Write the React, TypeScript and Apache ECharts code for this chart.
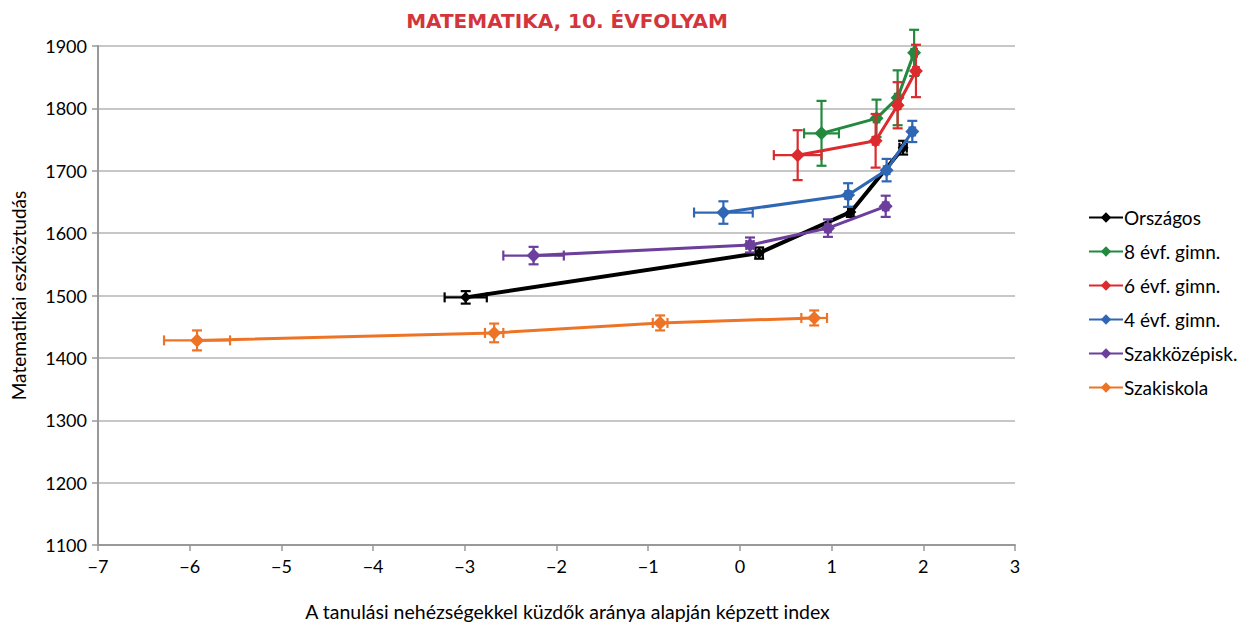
import React, { useEffect, useRef } from "react";
import * as echarts from "echarts";

const titleText = "MATEMATIKA, 10. ÉVFOLYAM";
const xAxisName = "A tanulási nehézségekkel küzdők aránya alapján képzett index";
const yAxisName = "Matematikai eszköztudás";

const seriesNames = ["Országos", "8 évf. gimn.", "6 évf. gimn.", "4 évf. gimn.", "Szakközépisk.", "Szakiskola"];
const seriesColors = ["#000000", "#23893f", "#dc2a2e", "#2f67b5", "#6b3f9b", "#ed7426"];

// Országos
const orszX = [-2.99, 0.21, 1.21, 1.78];
const orszY = [1497, 1568, 1634, 1737];
const orszXErr = [0.23, 0.04, 0.03, 0.04];
const orszYErr = [10, 9, 8, 11];

// 8 évf. gimn.
const g8X = [0.89, 1.49, 1.72, 1.9];
const g8Y = [1760, 1784, 1817, 1889];
const g8XErr = [0.19, 0.03, 0.03, 0.03];
const g8YErr = [52, 30, 44, 37];

// 6 évf. gimn.
const g6X = [0.63, 1.48, 1.72, 1.92];
const g6Y = [1725, 1748, 1805, 1860];
const g6XErr = [0.26, 0.03, 0.03, 0.03];
const g6YErr = [40, 43, 37, 42];

// 4 évf. gimn.
const g4X = [-0.18, 1.18, 1.6, 1.88];
const g4Y = [1633, 1661, 1701, 1763];
const g4XErr = [0.32, 0.03, 0.03, 0.03];
const g4YErr = [18, 19, 18, 17];

// Szakközépisk.
const szkX = [-2.25, 0.11, 0.96, 1.59];
const szkY = [1564, 1581, 1608, 1643];
const szkXErr = [0.33, 0.04, 0.03, 0.03];
const szkYErr = [14, 12, 14, 17];

// Szakiskola
const szakX = [-5.92, -2.68, -0.87, 0.81];
const szakY = [1428, 1440, 1456, 1464];
const szakXErr = [0.36, 0.1, 0.08, 0.14];
const szakYErr = [16, 15, 12, 12];

const allX = [orszX, g8X, g6X, g4X, szkX, szakX];
const allY = [orszY, g8Y, g6Y, g4Y, szkY, szakY];
const allXErr = [orszXErr, g8XErr, g6XErr, g4XErr, szkXErr, szakXErr];
const allYErr = [orszYErr, g8YErr, g6YErr, g4YErr, szkYErr, szakYErr];

const FONT = "Lato, 'Open Sans', sans-serif";

function makeErrRenderer(color: string) {
  return (params: any, api: any) => {
    const x = api.value(0);
    const y = api.value(1);
    const xe = api.value(2);
    const ye = api.value(3);
    const c = api.coord([x, y]);
    const l = api.coord([x - xe, y]);
    const r = api.coord([x + xe, y]);
    const t = api.coord([x, y + ye]);
    const b = api.coord([x, y - ye]);
    const cap = 5;
    const style = { stroke: color, lineWidth: 2.2 };
    return {
      type: "group",
      children: [
        { type: "line", shape: { x1: l[0], y1: c[1], x2: r[0], y2: c[1] }, style },
        { type: "line", shape: { x1: l[0], y1: c[1] - cap, x2: l[0], y2: c[1] + cap }, style },
        { type: "line", shape: { x1: r[0], y1: c[1] - cap, x2: r[0], y2: c[1] + cap }, style },
        { type: "line", shape: { x1: c[0], y1: t[1], x2: c[0], y2: b[1] }, style },
        { type: "line", shape: { x1: c[0] - cap, y1: t[1], x2: c[0] + cap, y2: t[1] }, style },
        { type: "line", shape: { x1: c[0] - cap, y1: b[1], x2: c[0] + cap, y2: b[1] }, style },
      ],
    };
  };
}

export default function App() {
  const ref = useRef<HTMLDivElement>(null);
  useEffect(() => {
    if (!ref.current) return;
    const chart = echarts.init(ref.current, null, { renderer: "svg" });
    const series: any[] = [];
    seriesNames.forEach((name, i) => {
      const color = seriesColors[i];
      series.push({
        name: name + " hiba",
        type: "custom",
        renderItem: makeErrRenderer(color),
        data: allX[i].map((x, k) => [x, allY[i][k], allXErr[i][k], allYErr[i][k]]),
        encode: { x: 0, y: 1 },
        z: 2 + i * 2,
        silent: true,
      });
      series.push({
        name,
        type: "line",
        data: allX[i].map((x, k) => [x, allY[i][k]]),
        symbol: "diamond",
        symbolSize: i === 0 ? 11 : 14,
        lineStyle: { color, width: i === 0 ? 4 : 3 },
        itemStyle: { color },
        z: 3 + i * 2,
      });
    });
    chart.setOption({
      animation: false,
      textStyle: { fontFamily: FONT },
      title: {
        text: titleText,
        left: 562,
        textAlign: "center",
        top: 6,
        textStyle: { color: "#d4343b", fontSize: 20, fontWeight: "bold", fontFamily: "'DejaVu Sans', sans-serif" },
      },
      legend: {
        data: seriesNames,
        orient: "vertical",
        left: 1083,
        top: 203,
        itemWidth: 34,
        itemHeight: 13,
        itemGap: 15,
        textStyle: { fontSize: 19, color: "#000", fontFamily: FONT, padding: [0, 0, 0, -4] },
      },
      grid: { left: 98, right: 235, top: 46, bottom: 81, containLabel: false },
      xAxis: {
        type: "value",
        min: -7,
        max: 3,
        interval: 1,
        name: xAxisName,
        nameLocation: "middle",
        nameGap: 56,
        nameTextStyle: { fontSize: 19.5, color: "#000", fontFamily: FONT, padding: [0, 0, 0, 22] },
        axisLine: { show: true, onZero: false, lineStyle: { color: "#999", width: 2 } },
        axisTick: { show: true, length: 6, lineStyle: { color: "#999", width: 1.5 } },
        axisLabel: {
          fontSize: 18,
          color: "#000",
          margin: 12,
          formatter: (v: number) => (v < 0 ? "\u2212" + Math.abs(v) : String(v)),
        },
        splitLine: { show: false },
      },
      yAxis: {
        type: "value",
        min: 1100,
        max: 1900,
        interval: 100,
        name: yAxisName,
        nameLocation: "middle",
        nameGap: 70,
        nameTextStyle: { fontSize: 19, color: "#000", fontFamily: FONT },
        axisLine: { show: true, onZero: false, lineStyle: { color: "#999", width: 2 } },
        axisTick: { show: true, length: 6, lineStyle: { color: "#999", width: 1.5 } },
        axisLabel: { fontSize: 18, color: "#000", margin: 11, formatter: (v: number) => String(v) },
        splitLine: { show: true, lineStyle: { color: "#b4b4b4", width: 1.5 } },
      },
      series,
    });
    return () => chart.dispose();
  }, []);
  return (
    <div
      ref={ref}
      style={{ position: "fixed", left: 0, top: 0, width: 1250, height: 626, background: "#fff" }}
    />
  );
}
